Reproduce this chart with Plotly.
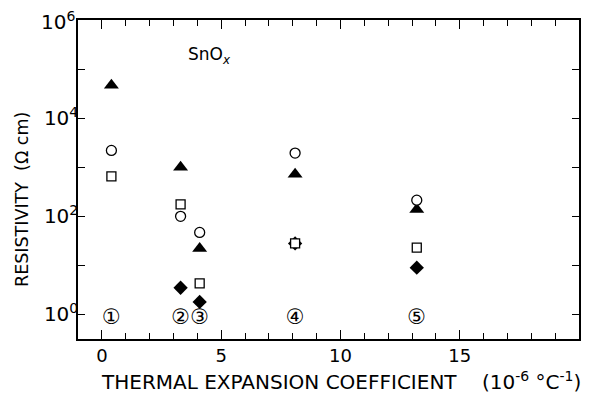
import plotly.graph_objects as go

# Group x positions (thermal expansion coefficient, 1e-6 /°C)
group_x = [0.4, 3.3, 4.1, 8.1, 13.2]
group_labels = ["①", "②", "③", "④", "⑤"]

triangle_x = [0.4, 3.3, 4.1, 8.1, 13.2]
triangle_y = [47000, 1000, 22, 720, 138]

circle_x = [0.4, 3.3, 4.1, 8.1, 13.2]
circle_y = [2200, 100, 47, 1940, 213]

square_x = [0.4, 3.3, 4.1, 8.1, 13.2]
square_y = [650, 175, 4.3, 28, 23]

diamond_x = [3.3, 4.1, 8.1, 13.2]
diamond_y = [3.5, 1.8, 28, 9]

label_y = 0.8

y_tickvals = [1, 10, 100, 1e3, 1e4, 1e5, 1e6]
y_ticktext = ["10<sup>0</sup>", "", "10<sup>2</sup>", "", "10<sup>4</sup>", "", ""]
top_tick_text = "10<sup>6</sup>"

fig = go.Figure()
fig.add_trace(go.Scatter(x=diamond_x, y=diamond_y, mode="markers",
                         marker=dict(symbol="diamond", size=11, color="black")))
fig.add_trace(go.Scatter(x=triangle_x, y=triangle_y, mode="markers",
                         marker=dict(symbol="triangle-up", size=13, color="black")))
fig.add_trace(go.Scatter(x=circle_x, y=circle_y, mode="markers",
                         marker=dict(symbol="circle", size=10, color="white",
                                     line=dict(color="black", width=1.3))))
fig.add_trace(go.Scatter(x=square_x, y=square_y, mode="markers",
                         marker=dict(symbol="square", size=9, color="white",
                                     line=dict(color="black", width=1.3))))
fig.add_trace(go.Scatter(x=group_x, y=[label_y] * len(group_x), mode="text",
                         text=group_labels,
                         textfont=dict(family="DejaVu Sans", size=21, color="black")))

fig.add_annotation(x=4.5, y=5.27, xref="x", yref="y", text="SnO<sub><i>x</i></sub>",
                   showarrow=False, font=dict(family="DejaVu Sans", size=17, color="black"))
# top y tick label (drawn as annotation so it is not dropped at the figure edge)
fig.add_annotation(x=0, y=6, xref="paper", yref="y", text=top_tick_text,
                   xanchor="right", yanchor="middle", xshift=-1, yshift=-1,
                   showarrow=False, font=dict(family="DejaVu Sans", size=20, color="black"))

fig.add_annotation(x=341, y=381, xref="paper", yref="paper",
                   text="THERMAL EXPANSION COEFFICIENT    (10<sup>-6</sup> °C<sup>-1</sup>)",
                   xanchor="center", yanchor="middle",
                   showarrow=False, font=dict(family="DejaVu Sans", size=20, color="black"))
fig.add_annotation(x=22, y=200, xref="paper", yref="paper", text="RESISTIVITY  (Ω cm)", textangle=-90,
                   xanchor="center", yanchor="middle",
                   showarrow=False, font=dict(family="DejaVu Sans", size=17.5, color="black"))

# Plot area in window pixels (page body has an 8px margin)
PL, PR, PT, PB = 78, 579, 20, 339
OFF = 8
W, H = 600 - OFF, 399 - OFF
pw, ph = PR - PL, PB - PT
for a in fig.layout.annotations[2:]:
    a.x = (a.x - PL) / pw
    a.y = (PB - a.y) / ph

fig.update_layout(
    width=W, height=H,
    margin=dict(l=PL - OFF, r=W + OFF - PR, t=PT - OFF, b=H + OFF - PB),
    plot_bgcolor="white", paper_bgcolor="white",
    showlegend=False,
    font=dict(family="DejaVu Sans", color="black"),
)
fig.update_xaxes(range=[-1, 20], showgrid=False, zeroline=False, automargin=False,
                 showline=True, linecolor="black", linewidth=1.5, mirror="ticks",
                 ticks="inside", ticklen=9, tickwidth=1.2, tickcolor="black",
                 tickvals=[0, 5, 10, 15], ticktext=["0", "5", "10", "15"],
                 tickfont=dict(size=18, family="DejaVu Sans"),
                 minor=dict(dtick=1, tick0=0, ticks="inside", ticklen=6, tickcolor="black", tickwidth=1.2))
fig.update_yaxes(type="log", range=[-0.5, 6], showgrid=False, zeroline=False, automargin=False,
                 showline=True, linecolor="black", linewidth=1.5, mirror="ticks",
                 ticks="inside", ticklen=7, tickwidth=1.2, tickcolor="black",
                 tickvals=y_tickvals, ticktext=y_ticktext, ticklabelstandoff=-6,
                 tickfont=dict(size=20, family="DejaVu Sans"))

fig.write_html("out.html")
